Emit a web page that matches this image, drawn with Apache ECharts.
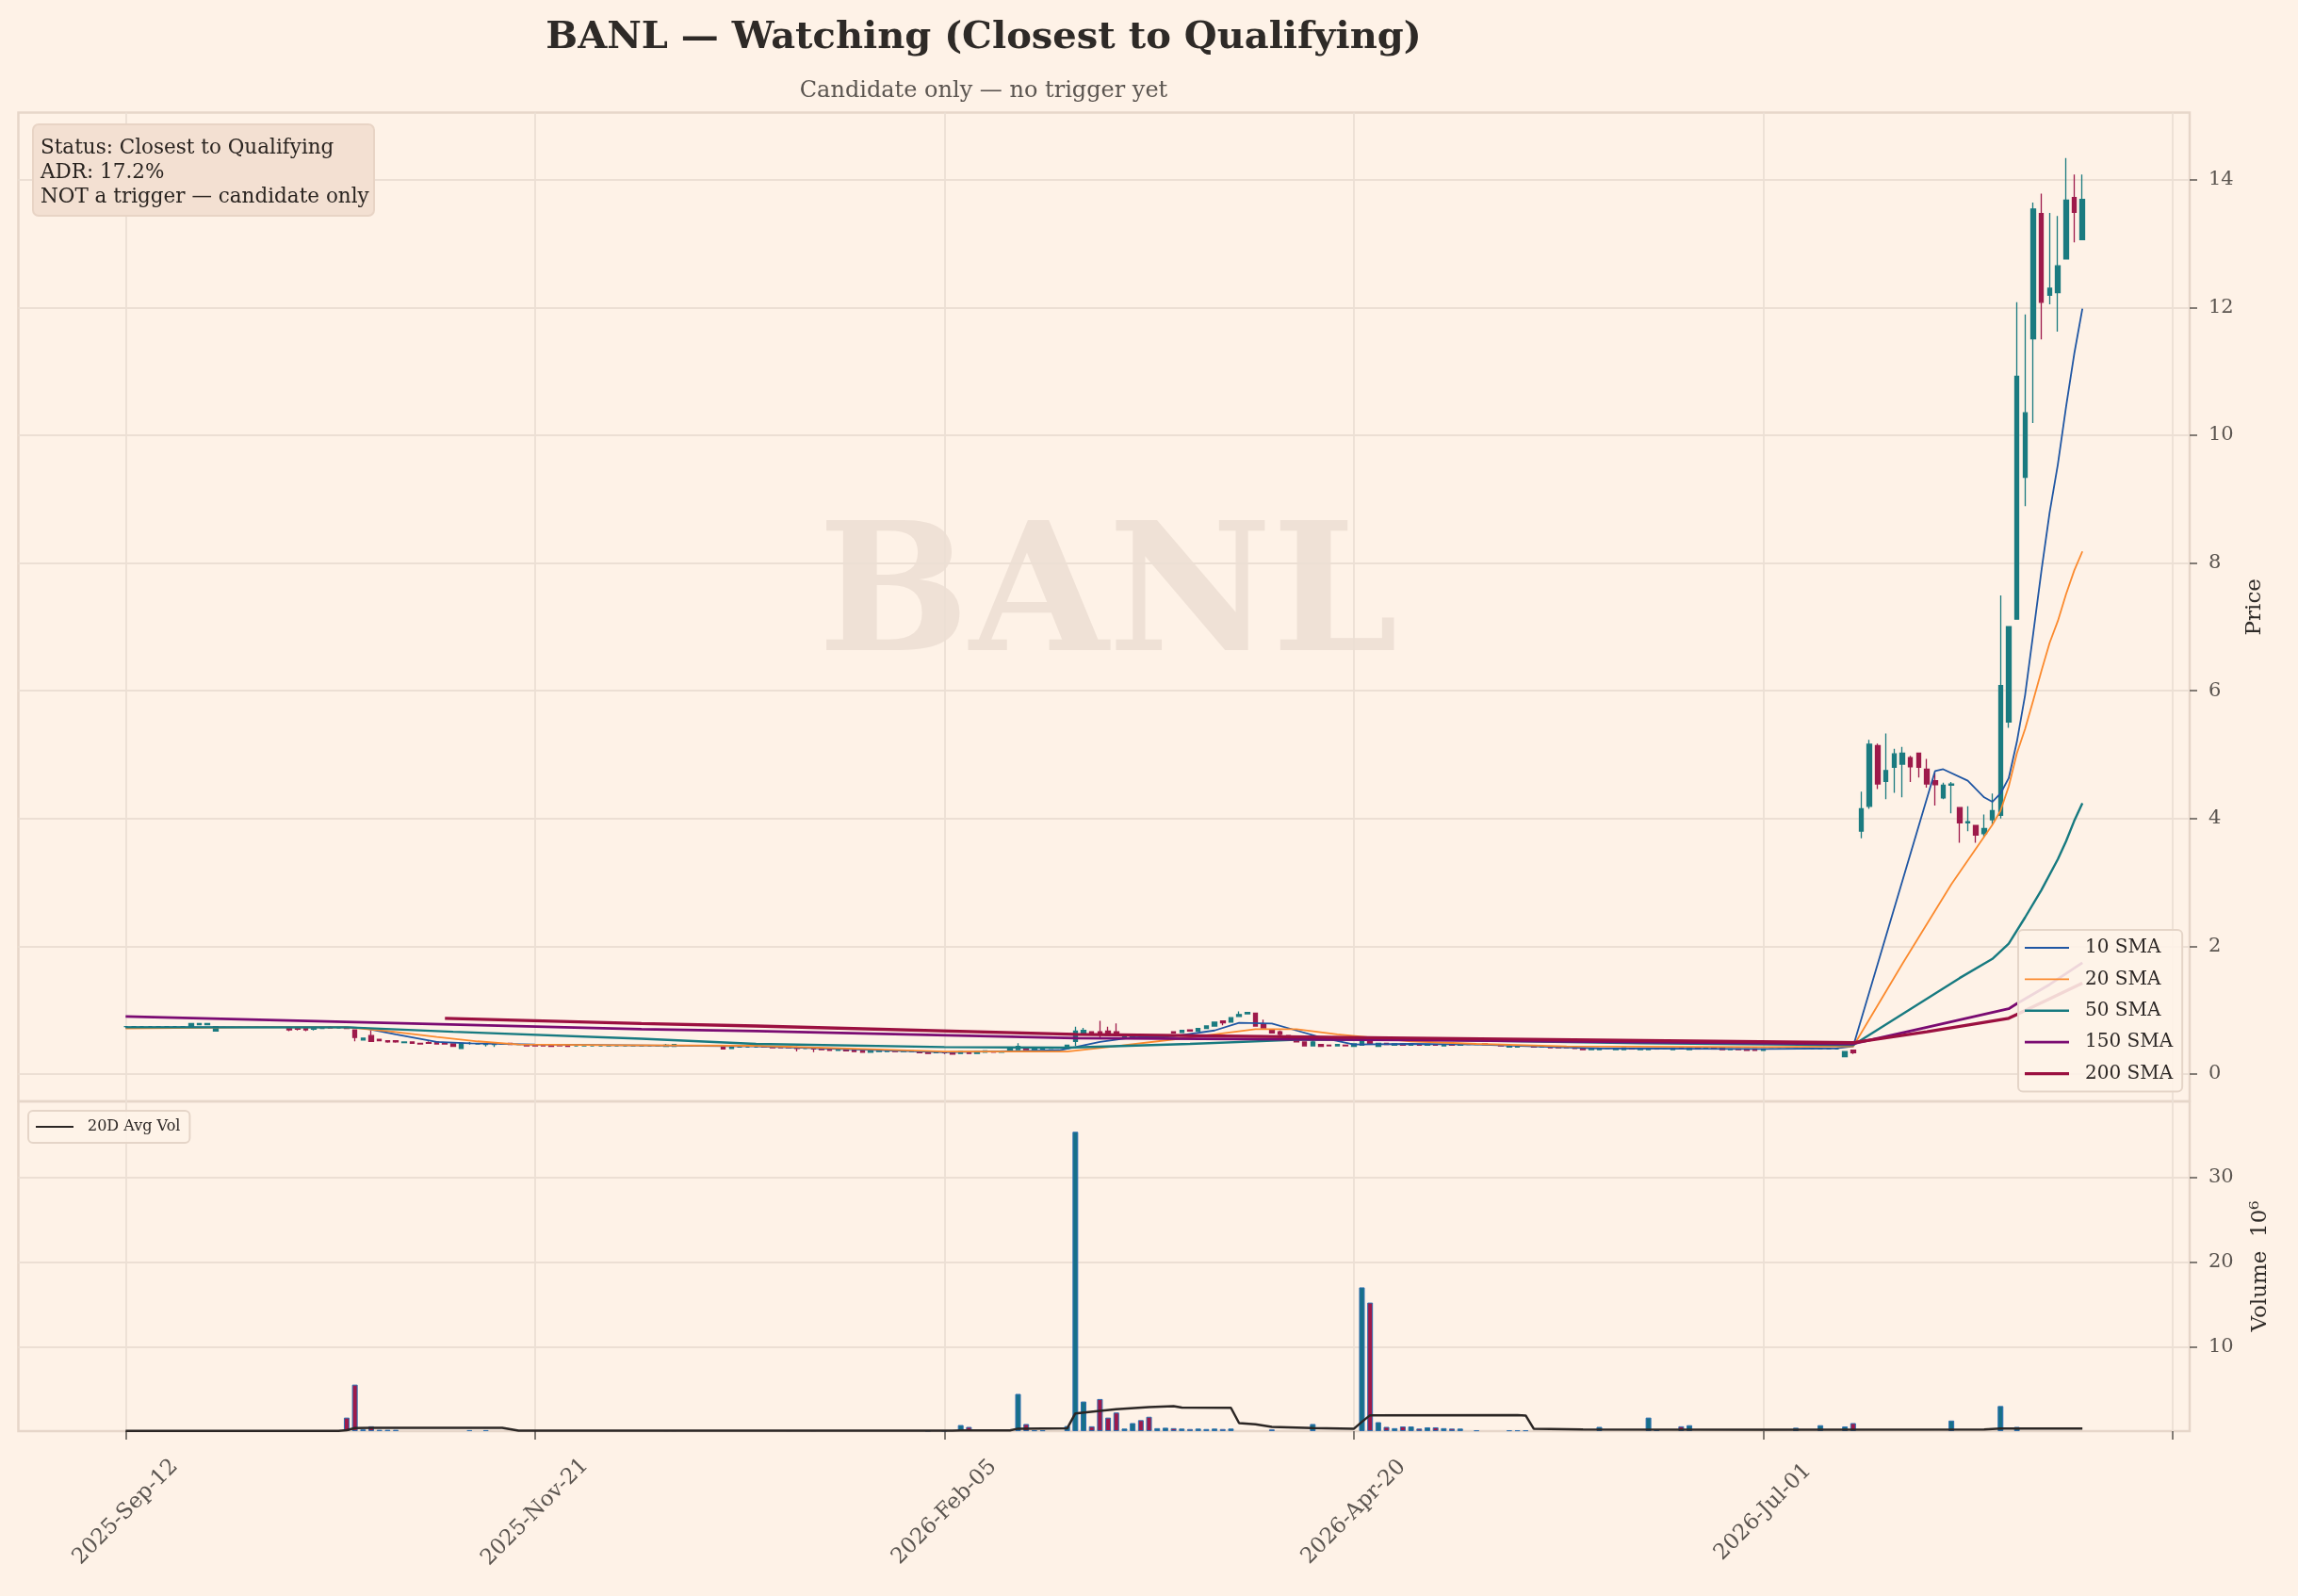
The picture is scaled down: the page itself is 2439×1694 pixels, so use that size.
<!DOCTYPE html>
<html><head><meta charset="utf-8">
<script src="https://cdn.jsdelivr.net/npm/echarts@6/dist/echarts.min.js"></script>
<style>html,body{margin:0;padding:0;background:#fef2e7;}#c{width:2439px;height:1694px;}</style>
</head><body><div id="c"></div>
<script>
// ---- tick labels / categories ----
const tickIndex = [0, 50, 100, 150, 200];
const tickLabels = ['2025-Sep-12', '2025-Nov-21', '2026-Feb-05', '2026-Apr-20', '2026-Jul-01'];
const xTickValues = [0, 50, 100, 150, 200, 250];
const priceTicks = [0, 2, 4, 6, 8, 10, 12, 14];
const volumeTicks = [10, 20, 30];

// ---- daily OHLC (trading-day index 0..239) ----
const opens = [
 .74,.74,.74,.74,.74,.74,.74,.74,.74,.77,
 .77,.67,.73,.73,.73,.73,.73,.73,.73,.73,
 .71,.71,.71,.70,.71,.73,.72,.72,.69,.53,
 .60,.54,.52,.52,.49,.50,.48,.49,.50,.49,
 .47,.40,.48,.47,.46,.46,.47,.48,.46,.46,
 .45,.46,.45,.45,.45,.44,.44,.44,.44,.44,
 .44,.44,.44,.44,.44,.44,.43,.43,.44,.44,
 .44,.44,.44,.43,.40,.42,.42,.42,.43,.43,
 .42,.42,.41,.40,.40,.40,.39,.37,.38,.38,
 .37,.34,.35,.35,.36,.35,.35,.35,.34,.33,
 .34,.34,.32,.34,.32,.34,.35,.34,.37,.38,
 .40,.38,.39,.40,.41,.40,.51,.63,.66,.66,
 .67,.66,.58,.57,.61,.60,.58,.58,.66,.65,
 .69,.67,.71,.75,.83,.81,.90,.94,.95,.78,
 .69,.66,.60,.54,.50,.44,.46,.45,.44,.45,
 .43,.45,.53,.43,.48,.45,.47,.45,.46,.45,
 .46,.44,.46,.45,.46,.46,.47,.46,.46,.42,
 .42,.44,.44,.42,.43,.43,.42,.42,.40,.38,
 .38,.40,.38,.38,.40,.38,.38,.40,.39,.38,
 .41,.38,.40,.39,.40,.40,.38,.39,.39,.39,
 .37,.39,.39,.39,.39,.39,.39,.39,.39,.39,
 .27,.37,3.80,4.19,5.14,4.58,4.80,4.85,4.95,5.02,
 4.77,4.59,4.32,4.52,4.17,3.93,3.89,3.76,3.98,4.05,
 5.51,7.12,9.34,11.51,13.47,12.19,12.23,12.76,13.72,13.06
];
const highs = [
 .74,.74,.74,.74,.74,.74,.74,.74,.79,.79,
 .79,.74,.73,.73,.73,.73,.73,.73,.73,.73,
 .71,.71,.71,.71,.71,.75,.72,.73,.69,.56,
 .68,.54,.52,.53,.50,.50,.48,.51,.50,.49,
 .47,.48,.50,.47,.48,.48,.47,.48,.46,.46,
 .45,.46,.45,.45,.45,.44,.44,.44,.44,.44,
 .44,.44,.44,.44,.44,.44,.47,.47,.44,.44,
 .44,.44,.44,.43,.42,.42,.42,.42,.43,.43,
 .42,.42,.43,.40,.41,.40,.39,.40,.38,.38,
 .37,.36,.36,.37,.36,.36,.36,.35,.34,.35,
 .35,.34,.35,.34,.35,.36,.35,.36,.40,.48,
 .40,.40,.41,.41,.41,.45,.74,.72,.66,.83,
 .74,.79,.59,.59,.62,.60,.59,.59,.66,.68,
 .69,.71,.75,.81,.83,.88,.98,.97,.95,.85,
 .69,.68,.60,.54,.50,.53,.46,.45,.46,.45,
 .47,.53,.53,.48,.48,.47,.47,.47,.46,.46,
 .46,.47,.46,.46,.46,.46,.47,.46,.46,.44,
 .44,.44,.44,.43,.43,.43,.42,.42,.40,.39,
 .40,.40,.40,.41,.40,.40,.41,.40,.39,.40,
 .41,.40,.40,.40,.40,.40,.39,.39,.39,.39,
 .40,.39,.39,.39,.39,.39,.39,.39,.39,.39,
 .35,.37,4.42,5.23,5.17,5.33,5.09,5.12,4.98,5.03,
 4.93,4.71,4.56,4.57,4.18,4.19,3.90,4.06,4.39,7.49,
 7.00,12.08,11.89,13.64,13.78,13.48,13.43,14.34,14.08,14.08
];
const lows = [
 .74,.74,.74,.74,.74,.74,.74,.74,.74,.77,
 .77,.67,.73,.73,.73,.73,.73,.73,.73,.73,
 .67,.68,.67,.68,.71,.72,.72,.71,.51,.53,
 .51,.52,.49,.49,.49,.47,.46,.48,.47,.47,
 .43,.40,.46,.47,.43,.42,.47,.46,.46,.44,
 .43,.44,.43,.44,.43,.44,.44,.44,.44,.44,
 .44,.44,.44,.44,.44,.44,.43,.43,.44,.44,
 .44,.44,.44,.39,.40,.42,.42,.42,.42,.41,
 .41,.40,.35,.40,.34,.38,.37,.36,.36,.35,
 .34,.34,.35,.35,.35,.35,.35,.33,.32,.33,
 .31,.31,.32,.32,.32,.34,.34,.34,.37,.38,
 .38,.38,.39,.40,.41,.40,.44,.62,.63,.56,
 .60,.59,.58,.57,.59,.58,.58,.58,.64,.65,
 .67,.67,.71,.75,.76,.81,.90,.94,.75,.71,
 .64,.60,.56,.50,.44,.44,.43,.44,.44,.44,
 .43,.45,.48,.43,.46,.45,.45,.45,.45,.45,
 .45,.43,.45,.45,.46,.46,.46,.46,.44,.42,
 .41,.44,.42,.41,.41,.41,.41,.40,.38,.38,
 .38,.40,.38,.38,.39,.38,.38,.39,.39,.38,
 .39,.38,.39,.38,.39,.38,.38,.38,.37,.37,
 .36,.39,.39,.39,.39,.39,.39,.39,.39,.39,
 .26,.31,3.69,4.15,4.46,4.30,4.40,4.33,4.57,4.64,
 4.48,4.20,4.30,4.08,3.62,3.80,3.62,3.71,3.90,4.00,
 5.42,7.12,8.89,10.19,11.50,12.05,11.62,12.76,13.02,13.06
];
const closes = [
 .74,.74,.74,.74,.74,.74,.74,.74,.79,.79,
 .79,.74,.73,.73,.73,.73,.73,.73,.73,.73,
 .69,.70,.69,.71,.71,.72,.72,.71,.57,.56,
 .51,.52,.50,.50,.50,.48,.47,.48,.47,.47,
 .43,.48,.48,.47,.47,.47,.47,.46,.46,.44,
 .44,.44,.43,.44,.43,.44,.44,.44,.44,.44,
 .44,.44,.44,.44,.44,.44,.45,.46,.44,.44,
 .44,.44,.44,.39,.42,.42,.42,.42,.42,.41,
 .41,.41,.40,.40,.39,.38,.37,.38,.36,.35,
 .34,.36,.36,.37,.35,.36,.36,.33,.32,.35,
 .33,.31,.35,.32,.35,.36,.34,.35,.40,.43,
 .38,.40,.41,.41,.41,.45,.67,.68,.63,.63,
 .61,.60,.59,.59,.59,.58,.59,.59,.64,.68,
 .67,.71,.75,.81,.80,.88,.93,.96,.75,.72,
 .64,.62,.56,.50,.44,.50,.43,.44,.46,.44,
 .47,.52,.48,.48,.46,.47,.45,.46,.45,.46,
 .45,.46,.45,.46,.46,.46,.46,.46,.44,.44,
 .44,.44,.42,.43,.41,.41,.41,.40,.38,.39,
 .40,.40,.40,.41,.39,.40,.40,.39,.39,.40,
 .39,.40,.39,.40,.39,.38,.39,.38,.37,.37,
 .39,.39,.39,.39,.39,.39,.39,.39,.39,.39,
 .35,.33,4.15,5.16,4.54,4.75,5.01,5.02,4.81,4.80,
 4.54,4.53,4.52,4.54,3.93,3.95,3.74,3.84,4.12,6.08,
 7.00,10.92,10.35,13.54,12.08,12.30,12.65,13.68,13.49,13.69
];
// volume in millions
const volumes = [
 0,0,0,0,0,0,0,0,0,0,
 0,0,0,0,0,0,0,0,0,0,
 0,0,0,0,0,0,0,1.6,5.5,0.2,
 0.57,0.15,0.15,0.15,0,0,0,0,0,0,
 0,0,0.12,0,0.12,0,0,0,0,0,
 0,0,0,0,0,0,0,0,0,0,
 0,0,0,0,0,0,0.1,0.1,0,0,
 0,0,0,0,0,0,0,0,0,0,
 0,0.1,0,0,0.1,0,0,0,0,0,
 0,0,0,0,0,0,0,0,0.05,0,
 0.05,0,0.72,0.5,0,0,0,0,0,4.4,
 0.84,0.1,0.1,0,0,0.6,35.4,3.5,0.57,3.8,
 1.6,2.2,0.3,0.95,1.3,1.7,0.35,0.4,0.35,0.3,
 0.25,0.3,0.25,0.3,0.25,0.3,0,0,0,0,
 0.2,0,0,0,0,0.84,0,0,0,0,
 0,17.0,15.2,1.06,0.5,0.35,0.55,0.55,0.3,0.45,
 0.45,0.35,0.3,0.3,0,0.1,0,0,0,0.1,
 0.1,0.1,0,0,0,0,0,0,0,0,
 0.5,0,0,0,0,0,1.6,0.2,0,0,
 0.57,0.7,0,0,0,0,0,0,0,0,
 0,0,0,0,0.4,0,0,0.7,0,0,
 0.55,0.95,0,0,0,0,0,0,0,0,
 0,0,0,1.25,0,0,0,0,0,2.97,
 0,0.5,0,0,0,0,0,0,0,0
];

// ---- moving averages: [index, value] ----
const sma10 = [[0,0.73],[27,0.73],[29,0.72],[33,0.62],[38,0.50],[42,0.48],[50,0.46],[60,0.45],[77,0.43],[90,0.38],[100,0.34],[110,0.36],[114,0.37],[116,0.42],[119,0.50],[123,0.57],[128,0.59],[133,0.68],[136,0.80],[140,0.79],[143,0.68],[146,0.57],[150,0.46],[157,0.47],[165,0.46],[172,0.43],[180,0.40],[200,0.39],[209,0.40],[211,0.43],[221,4.74],[222,4.77],[225,4.59],[227,4.33],[228,4.26],[229,4.39],[230,4.63],[231,5.20],[232,5.93],[233,6.90],[234,7.88],[235,8.79],[236,9.54],[237,10.44],[238,11.27],[239,11.98]];
const sma20 = [[0,0.71],[15,0.73],[27,0.73],[32,0.67],[38,0.58],[43,0.51],[48,0.46],[60,0.45],[77,0.44],[90,0.39],[100,0.35],[115,0.35],[120,0.42],[128,0.54],[133,0.62],[138,0.70],[143,0.70],[148,0.62],[157,0.51],[165,0.47],[176,0.43],[200,0.42],[211,0.43],[217,1.72],[223,2.97],[228,3.90],[229,4.12],[230,4.50],[231,5.02],[232,5.40],[233,5.85],[234,6.31],[235,6.75],[236,7.09],[237,7.51],[238,7.88],[239,8.18]];
const sma50 = [[0,0.73],[27,0.73],[40,0.66],[63,0.55],[77,0.47],[100,0.42],[115,0.41],[130,0.47],[143,0.535],[157,0.54],[185,0.48],[211,0.45],[224,1.50],[228,1.80],[230,2.04],[232,2.45],[234,2.88],[236,3.36],[237,3.64],[238,3.96],[239,4.24]];
const sma150 = [[0,0.90],[63,0.70],[77,0.67],[116,0.56],[157,0.53],[211,0.47],[220,0.73],[230,1.02],[231,1.10],[235,1.40],[239,1.74]];
const sma200 = [[39,0.87],[63,0.79],[77,0.75],[116,0.62],[157,0.56],[211,0.49],[220,0.66],[230,0.87],[231,0.93],[239,1.42]];
const avgVol20 = [[0,0.04],[26,0.04],[27,0.12],[28,0.36],[30,0.39],[34,0.40],[46,0.40],[48,0.05],[101,0.05],[102,0.08],[108,0.09],[109,0.29],[115,0.33],[116,2.10],[119,2.40],[121,2.60],[125,2.85],[128,2.95],[129,2.78],[135,2.76],[136,0.95],[138,0.80],[140,0.50],[145,0.35],[150,0.27],[151,1.10],[152,1.88],[170,1.90],[171,1.85],[172,0.27],[178,0.20],[200,0.17],[227,0.20],[229,0.32],[239,0.30]];

const UP = '#1b7b80', DOWN = '#9e1a4b';
const FONT = '"DejaVu Serif", serif';
const GRIDC = '#ecdfd4';
const FRAME = '#e6d6c9';
const LABC = '#5b5550';
const C10 = '#1f56a3', C20 = '#fb8a2e', C50 = '#177a80', C150 = '#7a0b72', C200 = '#9b1040';

const candles = opens.map((o, i) => [i, o, closes[i], lows[i], highs[i]]);
const volBars = [];
volumes.forEach((v, i) => {
  if (v > 0) volBars.push({ value: [i, v], itemStyle: { color: closes[i] >= opens[i] ? '#17708a' : DOWN } });
});

const splitLine = { show: true, lineStyle: { color: GRIDC, width: 1.8 } };
const tickStyle = { color: LABC, width: 1.5 };
const bar = t => 'path://M0,0H47V' + t + 'H0Z';

const chart = echarts.init(document.getElementById('c'));
chart.setOption({
  backgroundColor: '#fef2e7',
  animation: false,
  grid: [
    { left: 19.5, right: 115, top: 119.5, height: 1049.5, show: true, borderColor: FRAME, borderWidth: 2.5, backgroundColor: 'transparent' },
    { left: 19.5, right: 115, top: 1169, height: 350, show: true, borderColor: FRAME, borderWidth: 2.5, backgroundColor: 'transparent' }
  ],
  xAxis: [
    { type: 'value', gridIndex: 0, min: -13.1, max: 252.1,
      axisLine: { show: false, onZero: false }, axisTick: { show: false, customValues: xTickValues },
      axisLabel: { show: false }, splitLine },
    { type: 'value', gridIndex: 1, min: -13.1, max: 252.1,
      axisLine: { show: false, onZero: false },
      axisTick: { show: true, customValues: xTickValues, length: 9, lineStyle: tickStyle },
      axisLabel: { customValues: tickIndex, rotate: 45, align: 'center', verticalAlign: 'middle', margin: 86,
        fontFamily: FONT, fontSize: 23, color: LABC,
        formatter: v => { const k = tickIndex.indexOf(v); return k >= 0 ? tickLabels[k] : ''; } },
      splitLine }
  ],
  yAxis: [
    { type: 'value', gridIndex: 0, position: 'right', min: -0.43, max: 15.05,
      axisLine: { show: false, onZero: false },
      axisTick: { show: true, customValues: priceTicks, length: 8, lineStyle: tickStyle },
      axisLabel: { customValues: priceTicks, margin: 20, fontFamily: FONT, fontSize: 21, color: LABC },
      splitLine,
      name: 'Price', nameLocation: 'middle', nameRotate: 90, nameGap: 58,
      nameTextStyle: { fontFamily: FONT, fontSize: 23, color: '#2e2a27' } },
    { type: 'value', gridIndex: 1, position: 'right', min: 0, max: 39,
      axisLine: { show: false, onZero: false },
      axisTick: { show: true, customValues: volumeTicks, length: 8, lineStyle: tickStyle },
      axisLabel: { customValues: volumeTicks, margin: 20, fontFamily: FONT, fontSize: 21, color: LABC },
      splitLine,
      name: 'Volume  10⁶', nameLocation: 'middle', nameRotate: 90, nameGap: 64,
      nameTextStyle: { fontFamily: FONT, fontSize: 23, color: '#2e2a27' } }
  ],
  legend: [
    { data: [
        { name: '10 SMA', icon: bar(1.8) }, { name: '20 SMA', icon: bar(1.8) }, { name: '50 SMA', icon: bar(2.4) },
        { name: '150 SMA', icon: bar(2.8) }, { name: '200 SMA', icon: bar(3.3) }],
      orient: 'vertical', left: 2142, top: 987, padding: [9, 10, 9, 7], itemWidth: 47, itemHeight: 14, itemGap: 13.4,
      textStyle: { fontFamily: FONT, fontSize: 20, color: '#2b2624', padding: [0, 0, 0, 12] },
      backgroundColor: 'rgba(254,242,232,0.88)', borderColor: '#e5d5c8', borderWidth: 2, borderRadius: 5 },
    { data: [{ name: '20D Avg Vol', icon: bar(2.5) }], orient: 'vertical', left: 30, top: 1179, padding: [9, 10, 9, 8],
      itemWidth: 40, itemHeight: 12,
      textStyle: { fontFamily: FONT, fontSize: 16, color: '#2b2624', padding: [0, 0, 0, 10] },
      backgroundColor: 'rgba(254,242,232,0.88)', borderColor: '#e5d5c8', borderWidth: 2, borderRadius: 5 }
  ],
  series: [
    { type: 'candlestick', name: 'BANL', xAxisIndex: 0, yAxisIndex: 0, data: candles,
      encode: { x: 0, y: [1, 2, 3, 4] }, barWidth: 5, z: 2,
      itemStyle: { color: UP, color0: DOWN, borderColor: UP, borderColor0: DOWN, borderColorDoji: UP, borderWidth: 1.3 } },
    { type: 'line', name: '10 SMA', data: sma10, symbol: 'none', z: 3, lineStyle: { color: C10, width: 1.8 }, itemStyle: { color: C10 } },
    { type: 'line', name: '20 SMA', data: sma20, symbol: 'none', z: 3, lineStyle: { color: C20, width: 1.8 }, itemStyle: { color: C20 } },
    { type: 'line', name: '50 SMA', data: sma50, symbol: 'none', z: 3, lineStyle: { color: C50, width: 2.4 }, itemStyle: { color: C50 } },
    { type: 'line', name: '150 SMA', data: sma150, symbol: 'none', z: 3, lineStyle: { color: C150, width: 2.8 }, itemStyle: { color: C150 } },
    { type: 'line', name: '200 SMA', data: sma200, symbol: 'none', z: 3, lineStyle: { color: C200, width: 3.3 }, itemStyle: { color: C200 } },
    { type: 'bar', name: 'Volume', xAxisIndex: 1, yAxisIndex: 1, data: volBars, barWidth: 6, z: 2,
      itemStyle: { borderColor: '#2e6fb0', borderWidth: 1 } },
    { type: 'line', name: '20D Avg Vol', xAxisIndex: 1, yAxisIndex: 1, data: avgVol20, symbol: 'none', z: 4,
      lineStyle: { color: '#2b2624', width: 2.5 }, itemStyle: { color: '#2b2624' } }
  ],
  graphic: [
    { type: 'text', x: 1176, y: 641, z: -1, silent: true,
      style: { text: 'BANL', font: 'bold 190px "DejaVu Serif", serif', fill: '#efe1d6', align: 'center', verticalAlign: 'middle' } },
    { type: 'text', x: 1044, y: 41, style: { text: 'BANL — Watching (Closest to Qualifying)', font: 'bold 40px "DejaVu Serif", serif', fill: '#2e2a27', align: 'center', verticalAlign: 'middle' } },
    { type: 'text', x: 1044, y: 97, style: { text: 'Candidate only — no trigger yet', font: '24px "DejaVu Serif", serif', fill: '#5b5550', align: 'center', verticalAlign: 'middle' } },
    { type: 'rect', z: 10, shape: { x: 35, y: 132, width: 362, height: 97, r: 6 }, style: { fill: '#f3e0d2', stroke: '#e8d4c5', lineWidth: 2 } },
    { type: 'text', z: 11, x: 43, y: 157, style: { text: 'Status: Closest to Qualifying', font: '21.5px "DejaVu Serif", serif', fill: '#2a2420', align: 'left', verticalAlign: 'middle' } },
    { type: 'text', z: 11, x: 43, y: 183, style: { text: 'ADR: 17.2%', font: '21.5px "DejaVu Serif", serif', fill: '#2a2420', align: 'left', verticalAlign: 'middle' } },
    { type: 'text', z: 11, x: 43, y: 209, style: { text: 'NOT a trigger — candidate only', font: '21.5px "DejaVu Serif", serif', fill: '#2a2420', align: 'left', verticalAlign: 'middle' } }
  ]
});
</script></body></html>
